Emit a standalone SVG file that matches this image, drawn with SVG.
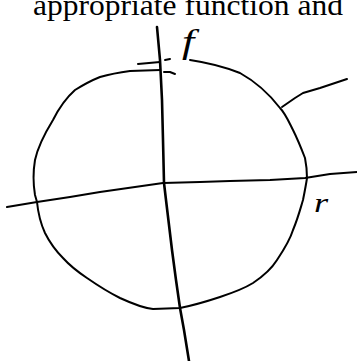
<svg xmlns="http://www.w3.org/2000/svg" width="357" height="361" viewBox="0 0 357 361">
<style>
.ln{fill:none;stroke:#000;stroke-width:2;stroke-linecap:round;stroke-linejoin:round}
.ax{fill:none;stroke:#000;stroke-width:2.6;stroke-linecap:round;stroke-linejoin:round}
.cap{font-family:"Liberation Serif","Times New Roman",serif;font-size:30px;fill:#000}
.hand{font-family:"Liberation Serif","Times New Roman",serif;font-style:italic;fill:#000}
</style>
<rect width="357" height="361" fill="#fff"/>
<text class="cap" x="33" y="15" textLength="310" lengthAdjust="spacingAndGlyphs">appropriate function and</text>
<g id="connectors">
<path id="vertical-axis" class="ax" d="M157,27 L160,60 L162,100 L163,140 L164,183 L166,200 L169,225 L172,250 L176,280 L180,308 L184,330 L189,361"/>
<path id="horizontal-axis" class="ln" d="M7,207 L37,202 L70,197 L100,192 L135,187 L163,183 L200,182 L230,181 L270,180 L305,178 L330,174 L357,172"/>
<path id="tangent" class="ln" d="M282,107 L295,98 L303,93 L320,88 L335,83 L347,79"/>
</g>
<g id="circle">
<path class="ln" d="M160,70 L130,71 C115,73 107,75 100,77 C90,81 83,85 75,90 C66,98 59,108 53,120 C45,133 38,146 35,160 C33,172 33,183 35,195 L37,202 C38,212 40,222 45,233 C52,247 58,253 63,258 C72,268 78,272 87,278 C100,287 110,293 120,298 C133,304 143,308 153,309 L180,308 C195,305 208,301 220,297 C235,292 245,288 253,283 C265,275 272,268 277,260 C285,248 290,240 293,230 C298,218 300,210 303,200 C305,190 306,185 307,178 C307,170 306,163 305,158 C300,145 297,138 293,130 C288,120 285,113 280,108 C270,95 258,83 240,73 C225,67 210,63 190,60"/>
<path class="ln" d="M138,64 L149,63 L160,62"/>
<path class="ln" d="M165,60 L170,59"/>
<path class="ln" d="M164,72 L170,72 L175,74"/>
</g>
<g id="label-f">
<text class="hand" transform="translate(182,53) scale(1.3,1)" x="0" y="0" font-size="34">f</text>
</g>
<g id="label-r">
<text class="hand" transform="translate(314,212) scale(1.3,1)" x="0" y="0" font-size="28">r</text>
</g>
</svg>
